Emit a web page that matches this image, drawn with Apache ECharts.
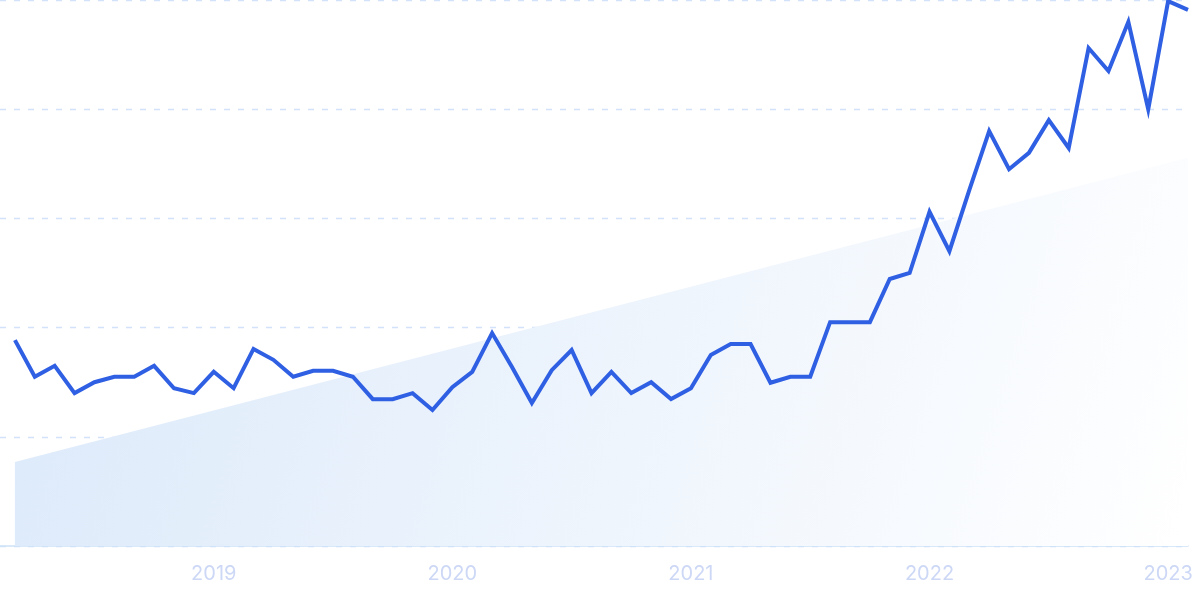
<!DOCTYPE html>
<html>
<head>
<meta charset="utf-8">
<script src="https://cdn.jsdelivr.net/npm/echarts@6/dist/echarts.min.js"></script>
<style>
html,body{margin:0;padding:0;background:#fff;}
#chart{width:1200px;height:599px;}
</style>
</head>
<body>
<div id="chart"></div>
<script>
// Monthly index values, March 2018 .. February 2023
const months = ["2018-03","2018-04","2018-05","2018-06","2018-07","2018-08","2018-09","2018-10","2018-11","2018-12",
"2019-01","2019-02","2019-03","2019-04","2019-05","2019-06","2019-07","2019-08","2019-09","2019-10","2019-11","2019-12",
"2020-01","2020-02","2020-03","2020-04","2020-05","2020-06","2020-07","2020-08","2020-09","2020-10","2020-11","2020-12",
"2021-01","2021-02","2021-03","2021-04","2021-05","2021-06","2021-07","2021-08","2021-09","2021-10","2021-11","2021-12",
"2022-01","2022-02","2022-03","2022-04","2022-05","2022-06","2022-07","2022-08","2022-09","2022-10","2022-11","2022-12",
"2023-01","2023-02"];
const values = [37.7,31.0,33.0,28.0,30.0,31.0,31.0,33.0,28.9,28.0,
31.9,28.9,36.1,34.1,31.0,32.1,32.1,31.0,26.9,26.9,28.0,24.9,
29.1,31.9,39.0,32.8,26.2,32.2,35.9,28.0,31.9,28.0,30.0,26.9,
28.9,35.0,37.0,37.0,29.9,31.0,31.0,41.0,41.0,41.0,48.9,50.0,
61.2,54.0,65.2,76.0,69.0,72.0,78.0,72.9,91.2,87.0,96.0,80.0,
99.8,98.2];
// Linear trend (start, end)
const trendValues = [15.4, 71.1];
const yearLabels = ["2019","2020","2021","2022","2023"];

const yearIdx = yearLabels.map(y => months.indexOf(y + "-01"));
const lineData = values.map((v, i) => [i, v]);
const trendData = [[0, trendValues[0]], [months.length - 1, trendValues[1]]];

const chart = echarts.init(document.getElementById('chart'), null, {renderer: 'canvas'});
chart.setOption({
  animation: false,
  backgroundColor: '#ffffff',
  grid: {left: 0, right: 12, top: 0, bottom: 53, containLabel: false},
  xAxis: {
    type: 'value',
    min: -0.75,
    max: months.length - 1,
    axisLine: {show: true, lineStyle: {color: '#cde2f8', width: 1.5}},
    axisTick: {show: false},
    splitLine: {show: false},
    axisLabel: {
      customValues: yearIdx,
      formatter: v => months[Math.round(v)].slice(0, 4),
      color: '#cdd8f6',
      fontFamily: 'Inter',
      fontSize: 20,
      margin: 18
    }
  },
  yAxis: {
    type: 'value',
    min: 0,
    max: 100,
    interval: 20,
    axisLine: {show: false},
    axisTick: {show: false},
    axisLabel: {show: false},
    splitLine: {show: true, lineStyle: {color: '#d2e2fa', type: [6, 8], width: 1.3}}
  },
  series: [
    {
      type: 'line',
      data: trendData,
      symbol: 'none',
      lineStyle: {width: 0, opacity: 0},
      areaStyle: {
        opacity: 1,
        color: new echarts.graphic.LinearGradient(0, 0, 1, 1, [
          {offset: 0, color: 'rgba(219,233,250,1)'},
          {offset: 1, color: 'rgba(255,255,255,1)'}
        ])
      },
      z: 1,
      silent: true
    },
    {
      type: 'line',
      data: lineData,
      symbol: 'none',
      lineStyle: {color: '#2f5fe3', width: 4, join: 'miter'},
      z: 3
    }
  ]
});
</script>
</body>
</html>
